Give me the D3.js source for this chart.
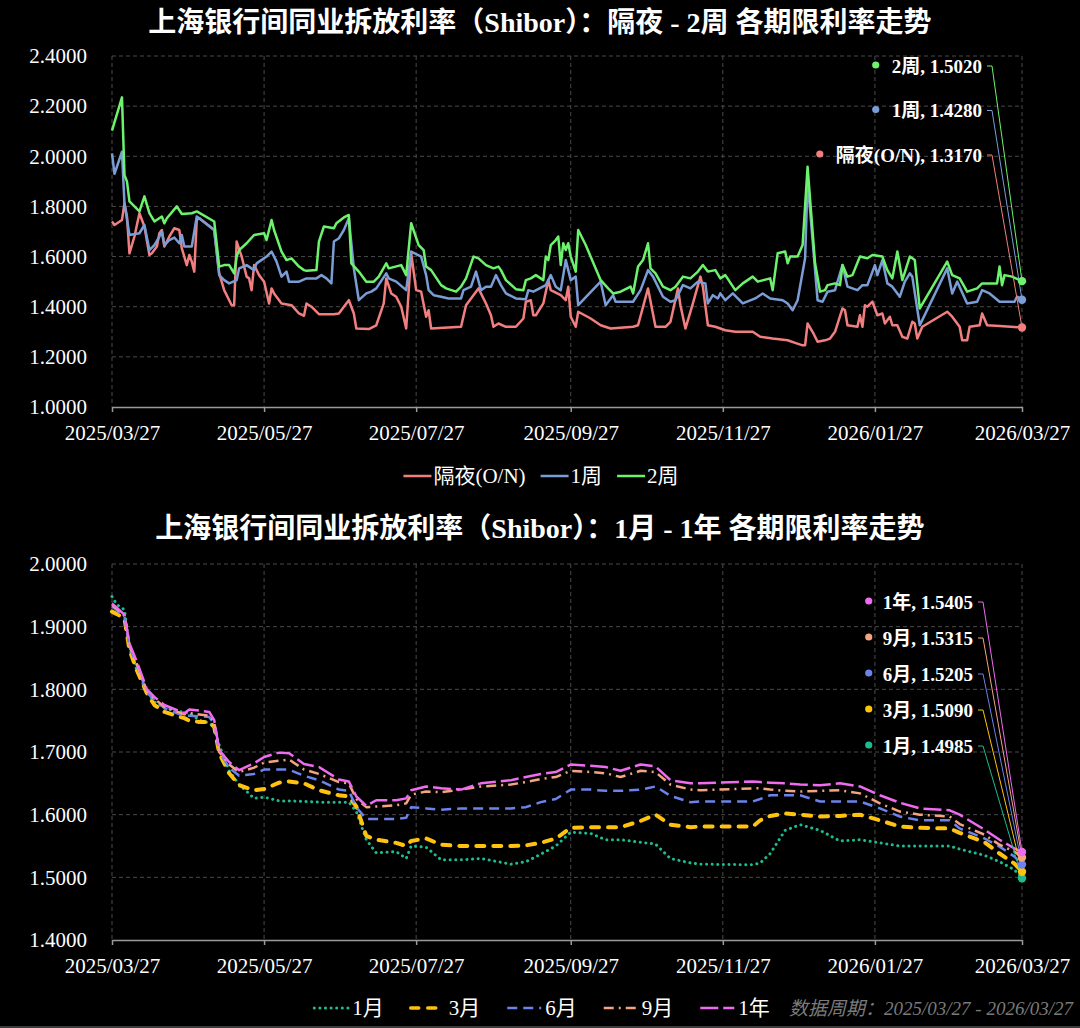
<!DOCTYPE html>
<html><head><meta charset="utf-8">
<script src="https://cdn.jsdelivr.net/npm/d3@7/dist/d3.min.js"></script>
<style>
html,body{margin:0;padding:0;background:#000;}
svg{display:block;}
</style></head><body>
<svg id="c" width="1080" height="1028"></svg>
<script>
// ---------------- DATA ----------------
const START_DATE = "2025-03-27";
const END_DATE = "2026-03-27";
const xTickDates = ["2025-03-27","2025-05-27","2025-07-27","2025-09-27","2025-11-27","2026-01-27","2026-03-27"];
const topYTicks = [1.0,1.2,1.4,1.6,1.8,2.0,2.2,2.4];
const bottomYTicks = [1.4,1.5,1.6,1.7,1.8,1.9,2.0];
const topTitle = "上海银行间同业拆放利率（Shibor）：隔夜 - 2周 各期限利率走势";
const bottomTitle = "上海银行间同业拆放利率（Shibor）：1月 - 1年 各期限利率走势";
const footerText = "数据周期：2025/03/27 - 2026/03/27";
const topSeriesNames = ["隔夜(O/N)","1周","2周"];
const bottomSeriesNames = ["1月","3月","6月","9月","1年"];

// top panel: [days since START_DATE, rate]
const rateON = [[0,1.740],[1,1.726],[4,1.746],[5,1.813],[6,1.760],[7,1.613],[9,1.680],[11,1.773],[13,1.720],[15,1.606],[16,1.613],[18,1.640],[19,1.693],[20,1.706],[21,1.640],[23,1.680],[25,1.713],[27,1.706],[28,1.633],[30,1.566],[31,1.606],[32,1.580],[33,1.540],[34,1.746],[35,1.753],[41,1.706],[43,1.533],[45,1.466],[47,1.426],[48,1.406],[49,1.406],[50,1.660],[52,1.600],[54,1.520],[55,1.513],[56,1.466],[57,1.566],[59,1.526],[61,1.500],[63,1.413],[64,1.473],[65,1.453],[68,1.413],[72,1.406],[75,1.373],[77,1.364],[78,1.413],[80,1.400],[83,1.370],[89,1.370],[91,1.373],[93,1.400],[95,1.426],[97,1.373],[98,1.313],[103,1.311],[106,1.326],[109,1.413],[110,1.513],[112,1.453],[114,1.440],[116,1.400],[118,1.313],[120,1.613],[122,1.466],[124,1.460],[126,1.360],[127,1.386],[128,1.313],[140,1.320],[142,1.406],[144,1.433],[147,1.473],[150,1.413],[152,1.366],[153,1.320],[155,1.333],[158,1.320],[162,1.320],[165,1.353],[166,1.420],[168,1.426],[169,1.366],[170,1.366],[173,1.413],[175,1.506],[176,1.466],[180,1.446],[182,1.426],[183,1.480],[184,1.360],[186,1.320],[187,1.380],[192,1.353],[196,1.326],[200,1.313],[209,1.320],[211,1.326],[215,1.473],[218,1.320],[222,1.320],[224,1.340],[227,1.473],[228,1.406],[230,1.313],[233,1.413],[236,1.520],[237,1.480],[239,1.326],[242,1.320],[246,1.306],[250,1.300],[257,1.300],[260,1.280],[265,1.273],[271,1.266],[274,1.256],[277,1.246],[278,1.246],[279,1.333],[281,1.300],[283,1.260],[286,1.266],[288,1.273],[290,1.300],[293,1.393],[294,1.386],[295,1.326],[299,1.320],[300,1.366],[301,1.320],[302,1.406],[303,1.400],[305,1.420],[307,1.366],[309,1.373],[310,1.333],[312,1.360],[313,1.326],[315,1.326],[317,1.280],[319,1.273],[321,1.340],[322,1.333],[323,1.273],[325,1.320],[335,1.380],[337,1.360],[340,1.320],[341,1.266],[343,1.266],[344,1.320],[348,1.326],[349,1.373],[351,1.326],[356,1.323],[365,1.317]];
const rate1W = [[0,2.012],[1,1.930],[4,2.018],[5,1.812],[7,1.686],[11,1.693],[13,1.726],[15,1.626],[17,1.646],[19,1.680],[20,1.700],[21,1.646],[23,1.666],[25,1.676],[27,1.653],[28,1.686],[29,1.640],[32,1.640],[34,1.760],[35,1.753],[41,1.706],[43,1.526],[45,1.506],[47,1.493],[50,1.506],[51,1.553],[54,1.566],[57,1.546],[58,1.573],[62,1.600],[64,1.620],[66,1.580],[68,1.520],[70,1.540],[71,1.500],[75,1.500],[78,1.513],[82,1.513],[84,1.526],[86,1.513],[88,1.493],[89,1.660],[91,1.673],[93,1.706],[95,1.753],[97,1.553],[99,1.426],[102,1.453],[104,1.460],[106,1.473],[110,1.533],[111,1.513],[114,1.500],[118,1.466],[120,1.620],[124,1.600],[126,1.526],[127,1.466],[129,1.446],[132,1.440],[135,1.433],[140,1.433],[141,1.466],[144,1.480],[146,1.540],[148,1.466],[150,1.480],[152,1.480],[154,1.526],[156,1.486],[158,1.453],[162,1.433],[166,1.430],[167,1.466],[169,1.460],[174,1.486],[176,1.526],[178,1.480],[180,1.466],[182,1.586],[183,1.546],[184,1.506],[186,1.520],[187,1.406],[196,1.500],[198,1.406],[201,1.446],[202,1.420],[209,1.420],[212,1.466],[215,1.546],[217,1.520],[221,1.440],[224,1.420],[226,1.426],[229,1.486],[232,1.473],[235,1.500],[238,1.493],[239,1.413],[241,1.446],[243,1.433],[244,1.453],[246,1.426],[249,1.453],[253,1.413],[258,1.433],[261,1.453],[264,1.433],[269,1.426],[271,1.413],[273,1.386],[275,1.426],[278,1.593],[279,1.905],[283,1.426],[285,1.420],[287,1.460],[290,1.466],[293,1.566],[295,1.480],[299,1.466],[301,1.486],[303,1.486],[306,1.566],[307,1.526],[309,1.586],[311,1.493],[313,1.480],[316,1.440],[318,1.500],[320,1.533],[321,1.520],[324,1.326],[335,1.553],[337,1.453],[339,1.500],[343,1.413],[347,1.420],[349,1.466],[352,1.453],[356,1.420],[362,1.420],[363,1.440],[365,1.428]];
const rate2W = [[0,2.102],[4,2.235],[5,1.925],[6,1.900],[7,1.820],[11,1.780],[13,1.840],[15,1.773],[17,1.740],[20,1.760],[21,1.733],[22,1.753],[26,1.800],[28,1.770],[32,1.773],[34,1.780],[41,1.740],[43,1.560],[45,1.566],[47,1.566],[49,1.533],[50,1.600],[51,1.626],[54,1.653],[57,1.686],[61,1.693],[62,1.666],[64,1.746],[65,1.706],[68,1.620],[70,1.586],[72,1.593],[75,1.560],[77,1.546],[78,1.543],[82,1.546],[83,1.660],[85,1.720],[89,1.713],[90,1.733],[93,1.756],[95,1.766],[96,1.573],[99,1.540],[102,1.500],[105,1.500],[107,1.520],[110,1.573],[111,1.553],[116,1.566],[118,1.526],[120,1.733],[123,1.646],[125,1.626],[126,1.560],[128,1.546],[132,1.486],[134,1.473],[138,1.460],[140,1.480],[142,1.513],[145,1.600],[147,1.593],[150,1.566],[153,1.553],[155,1.560],[156,1.546],[158,1.506],[162,1.470],[165,1.466],[166,1.506],[168,1.513],[170,1.526],[173,1.506],[174,1.600],[175,1.586],[176,1.646],[178,1.666],[179,1.680],[180,1.566],[181,1.653],[182,1.626],[183,1.653],[184,1.600],[186,1.540],[187,1.706],[190,1.646],[196,1.506],[199,1.473],[201,1.453],[204,1.460],[208,1.480],[209,1.453],[211,1.560],[213,1.586],[215,1.653],[216,1.553],[218,1.533],[221,1.480],[224,1.466],[226,1.480],[229,1.520],[232,1.513],[235,1.540],[237,1.566],[239,1.540],[242,1.546],[244,1.513],[246,1.526],[250,1.466],[253,1.493],[257,1.520],[259,1.500],[264,1.513],[265,1.466],[267,1.613],[270,1.620],[271,1.573],[272,1.600],[275,1.600],[277,1.646],[279,1.958],[282,1.573],[284,1.460],[286,1.466],[287,1.486],[290,1.493],[292,1.486],[293,1.566],[295,1.520],[297,1.526],[300,1.600],[303,1.593],[305,1.606],[309,1.600],[311,1.546],[313,1.513],[315,1.620],[317,1.506],[320,1.600],[322,1.586],[324,1.393],[335,1.580],[337,1.526],[340,1.513],[343,1.460],[347,1.473],[349,1.493],[355,1.493],[356,1.560],[357,1.486],[358,1.526],[361,1.520],[365,1.502]];

// bottom panel: shared day offsets + one value list per tenor
const bottomDays = [0,2,5,7,10,14,17,21,29,31,35,39,41,43,47,51,57,61,67,71,77,83,91,95,98,102,106,114,118,120,126,132,140,148,160,166,172,178,184,192,198,204,212,218,224,232,236,257,260,264,270,276,284,292,300,308,316,324,336,340,350,356,362,365];
const rate1M = [1.948,1.935,1.927,1.866,1.830,1.796,1.780,1.770,1.763,1.762,1.751,1.746,1.740,1.711,1.670,1.648,1.626,1.628,1.622,1.622,1.621,1.620,1.620,1.620,1.605,1.560,1.539,1.541,1.530,1.550,1.548,1.528,1.528,1.530,1.521,1.525,1.537,1.550,1.572,1.570,1.560,1.560,1.556,1.553,1.530,1.523,1.521,1.520,1.523,1.538,1.575,1.584,1.575,1.558,1.560,1.555,1.550,1.550,1.550,1.545,1.535,1.525,1.512,1.4985];
const rate3M = [1.924,1.920,1.913,1.863,1.830,1.794,1.775,1.764,1.754,1.750,1.748,1.748,1.740,1.698,1.666,1.647,1.639,1.641,1.651,1.653,1.650,1.639,1.631,1.629,1.613,1.566,1.560,1.555,1.550,1.558,1.562,1.552,1.550,1.550,1.550,1.551,1.555,1.562,1.579,1.580,1.580,1.580,1.590,1.600,1.584,1.580,1.581,1.581,1.591,1.598,1.602,1.600,1.597,1.598,1.600,1.591,1.581,1.579,1.578,1.571,1.556,1.538,1.522,1.509];
const rate6M = [1.932,1.926,1.915,1.868,1.838,1.795,1.783,1.770,1.757,1.758,1.757,1.756,1.745,1.700,1.675,1.662,1.665,1.672,1.672,1.672,1.662,1.655,1.640,1.638,1.612,1.593,1.593,1.593,1.595,1.612,1.610,1.608,1.610,1.610,1.610,1.612,1.620,1.625,1.640,1.640,1.638,1.638,1.640,1.645,1.630,1.620,1.621,1.621,1.625,1.631,1.631,1.631,1.621,1.621,1.621,1.610,1.597,1.591,1.591,1.578,1.562,1.549,1.533,1.5205];
const rate9M = [1.935,1.928,1.917,1.870,1.840,1.797,1.785,1.772,1.760,1.762,1.760,1.758,1.748,1.700,1.680,1.668,1.675,1.683,1.686,1.688,1.672,1.665,1.652,1.650,1.625,1.612,1.613,1.615,1.618,1.632,1.637,1.636,1.640,1.645,1.648,1.652,1.657,1.660,1.670,1.668,1.666,1.660,1.670,1.668,1.648,1.640,1.639,1.642,1.642,1.640,1.638,1.637,1.638,1.639,1.634,1.618,1.605,1.600,1.597,1.585,1.568,1.552,1.541,1.5315];
const rate1Y = [1.937,1.930,1.919,1.873,1.844,1.800,1.788,1.775,1.762,1.768,1.766,1.764,1.751,1.703,1.684,1.671,1.682,1.692,1.699,1.698,1.681,1.676,1.656,1.653,1.629,1.614,1.623,1.623,1.626,1.639,1.645,1.642,1.640,1.650,1.655,1.660,1.665,1.668,1.680,1.678,1.676,1.670,1.680,1.677,1.655,1.650,1.650,1.653,1.652,1.651,1.650,1.648,1.647,1.650,1.645,1.631,1.619,1.610,1.607,1.600,1.576,1.560,1.546,1.5405];

// ---------------- RENDER ----------------
const FONT = "'Liberation Serif','Noto Sans CJK SC',serif";
const svg = d3.select("#c");
svg.append("rect").attr("width",1080).attr("height",1028).attr("fill","#000");
const parse = d3.timeParse("%Y-%m-%d");
const start = parse(START_DATE), end = parse(END_DATE);
const toDate = d => d3.timeDay.offset(start, d);
const fmt4 = d3.format(".4f");
const fmtDate = d3.timeFormat("%Y/%m/%d");

const topSeries = [
  {name: topSeriesNames[0], color:"#f27f7f", width:2.5, dash:null, data: rateON.map(p=>({date:toDate(p[0]), value:p[1]}))},
  {name: topSeriesNames[1], color:"#7b9dd6", width:2.5, dash:null, data: rate1W.map(p=>({date:toDate(p[0]), value:p[1]}))},
  {name: topSeriesNames[2], color:"#6df26d", width:2.5, dash:null, data: rate2W.map(p=>({date:toDate(p[0]), value:p[1]}))}
];
const bottomVals = [rate1M, rate3M, rate6M, rate9M, rate1Y];
const bottomStyle = [
  {color:"#1dbb8f", width:3, dash:"0.1,5.5", cap:"round"},
  {color:"#ffc20e", width:4, dash:"8,9", cap:"round"},
  {color:"#6c82ec", width:2.5, dash:"10,6", cap:"butt"},
  {color:"#f4a47e", width:2.5, dash:"10,5,2,5", cap:"butt"},
  {color:"#ef6bef", width:2.5, dash:"18,5", cap:"butt"}
];
const bottomSeries = bottomSeriesNames.map((n,i)=>Object.assign({name:n, data: bottomDays.map((d,j)=>({date:toDate(d), value:bottomVals[i][j]}))}, bottomStyle[i]));

function panel(cfg){
  const x = d3.scaleTime().domain([start,end]).range([112,1022]);
  const y = d3.scaleLinear().domain(cfg.yDomain).range([cfg.yBottom, cfg.yTop]);
  const g = svg.append("g");
  g.append("text").attr("x",540).attr("y",cfg.titleY).attr("text-anchor","middle")
    .attr("fill","#fff").attr("font-weight","bold").attr("font-size",28).attr("font-family",FONT).text(cfg.title);
  // grid
  g.selectAll(".hg").data(cfg.yTicks.slice(1)).join("line")
    .attr("x1",112).attr("x2",1022).attr("y1",d=>y(d)).attr("y2",d=>y(d))
    .attr("stroke","#4a4a4a").attr("stroke-dasharray","4,3");
  const tickDates = xTickDates.map(parse);
  g.selectAll(".vg").data(tickDates).join("line")
    .attr("x1",d=>x(d)).attr("x2",d=>x(d)).attr("y1",cfg.yTop).attr("y2",cfg.yBottom)
    .attr("stroke","#4a4a4a").attr("stroke-dasharray","4,3");
  // axes
  const xa = g.append("g").attr("transform",`translate(0,${cfg.yBottom})`)
    .call(d3.axisBottom(x).tickValues(tickDates).tickFormat(fmtDate).tickSize(5).tickSizeOuter(0).tickPadding(13));
  xa.select(".domain").attr("stroke","#9a9a9a").attr("stroke-width",1.5);
  xa.selectAll(".tick line").attr("stroke","#9a9a9a").attr("stroke-width",1.5);
  xa.selectAll("text").attr("fill","#fff").attr("font-size",21).attr("font-family",FONT);
  const ya = g.append("g").attr("transform","translate(112,0)")
    .call(d3.axisLeft(y).tickValues(cfg.yTicks).tickFormat(fmt4).tickSize(0).tickPadding(25));
  ya.select(".domain").remove();
  ya.selectAll("text").attr("fill","#fff").attr("font-size",21).attr("font-family",FONT);
  // lines
  const line = d3.line().x(d=>x(d.date)).y(d=>y(d.value));
  cfg.series.forEach(s=>{
    g.append("path").datum(s.data).attr("d",line).attr("fill","none")
      .attr("stroke",s.color).attr("stroke-width",s.width)
      .attr("stroke-dasharray",s.dash).attr("stroke-linecap",s.cap||"butt").attr("stroke-linejoin","round");
  });
  // end labels
  const order = cfg.series.slice().reverse();
  order.forEach((s,i)=>{
    const last = s.data[s.data.length-1];
    const cy = cfg.labelY0 + i*cfg.labelStep;
    const t = g.append("text").attr("x",cfg.labelRight).attr("y",cy).attr("dy","0.35em")
      .attr("text-anchor","end").attr("fill","#fff").attr("font-weight","bold")
      .attr("font-size",19).attr("font-family",FONT).text(`${s.name}, ${fmt4(last.value)}`);
    const w = t.node().getComputedTextLength();
    g.append("circle").attr("cx",cfg.labelRight-w-cfg.dotGap).attr("cy",cy-1).attr("r",3.6).attr("fill",s.color);
    g.append("polyline").attr("points",[[cfg.labelRight+5,cy],[cfg.labelRight+10,cy],[x(last.date),y(last.value)]].map(p=>p.join(",")).join(" "))
      .attr("fill","none").attr("stroke",s.color).attr("stroke-width",1);
  });
  cfg.series.forEach(s=>{
    const last = s.data[s.data.length-1];
    g.append("circle").attr("cx",x(last.date)).attr("cy",y(last.value)).attr("r",4.2).attr("fill",s.color);
  });
  // legend
  const lg = g.append("g");
  let cx = 0;
  cfg.series.forEach(s=>{
    const it = lg.append("g").attr("transform",`translate(${cx},0)`);
    it.append("line").attr("x1",0).attr("x2",cfg.legLine).attr("y1",0).attr("y2",0)
      .attr("stroke",s.color).attr("stroke-width",Math.min(s.width,3.5)).attr("stroke-dasharray",s.dash).attr("stroke-linecap",s.cap||"butt");
    const t = it.append("text").attr("x",cfg.legLine+cfg.legTextGap).attr("y",0).attr("dy","0.35em")
      .attr("fill","#fff").attr("font-size",21).attr("font-family",FONT).text(s.name);
    const w = t.node().getComputedTextLength();
    cx += cfg.legLine + cfg.legTextGap + w + cfg.legGap;
  });
  const total = cx - cfg.legGap;
  lg.attr("transform",`translate(${cfg.legCenter-total/2},${cfg.legY})`);
  return g;
}

panel({title: topTitle, titleY: 32, yDomain:[1.0,2.4], yTop:56, yBottom:407, yTicks: topYTicks,
  series: topSeries, labelRight: 982, labelY0: 66, labelStep: 44.5, dotGap: 16,
  legY: 476, legCenter: 541, legLine: 28, legTextGap: 2, legGap: 15});
panel({title: bottomTitle, titleY: 538, yDomain:[1.4,2.0], yTop:564, yBottom:940, yTicks: bottomYTicks,
  series: bottomSeries, labelRight: 973, labelY0: 602, labelStep: 36, dotGap: 14,
  legY: 1008, legCenter: 542, legLine: 34, legTextGap: 4, legGap: 27});

svg.append("text").attr("x",1073).attr("y",1008).attr("dy","0.35em").attr("text-anchor","end")
  .attr("fill","#7a7a7a").attr("font-style","italic").attr("font-size",19).attr("font-family",FONT).text(footerText);
svg.append("line").attr("x1",0).attr("x2",1080).attr("y1",1027).attr("y2",1027).attr("stroke","#777");
</script>
</body></html>
